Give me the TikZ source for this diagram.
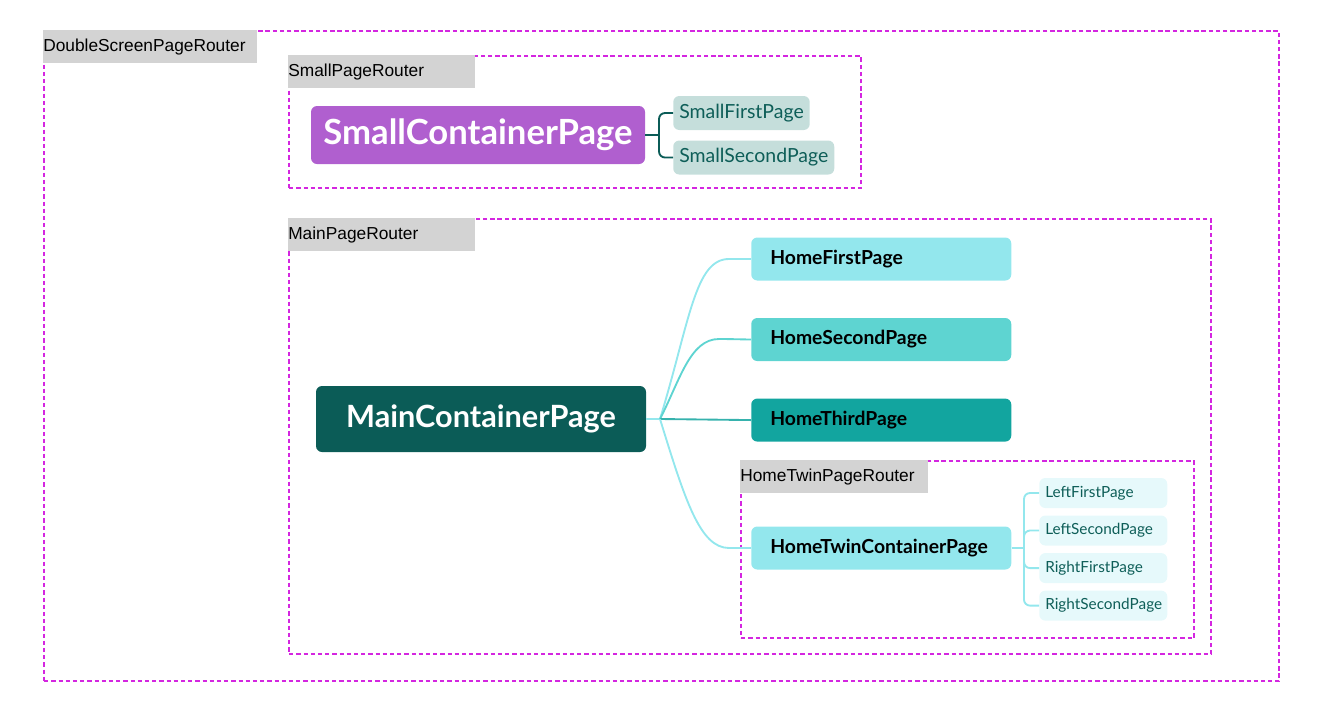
\documentclass[tikz,border=0pt]{standalone}
\usepackage{fontspec}
\setmainfont{Lato}
\newfontfamily\routerfont{Liberation Sans}
\usetikzlibrary{positioning}
\definecolor{routerMag}{RGB}{212,38,224}
\definecolor{routerGrey}{RGB}{211,211,211}
\definecolor{smallPurple}{RGB}{176,95,207}
\definecolor{smallLeaf}{RGB}{197,222,219}
\definecolor{darkTeal}{RGB}{11,92,87}
\definecolor{homeA}{RGB}{147,231,237}
\definecolor{homeB}{RGB}{94,212,209}
\definecolor{homeC}{RGB}{18,165,159}
\definecolor{twinLeaf}{RGB}{230,249,251}
\definecolor{leafText}{RGB}{14,94,88}
\newcommand{\pxl}{0.75pt}
\tikzstyle{router}=[draw=routerMag,line width=1.7pt,dash pattern=on 3.2pt off 2.2pt,
                anchor=north west,inner sep=0pt]
\tikzstyle{router label}=[fill=routerGrey,anchor=north west,inner sep=0pt,minimum height=33*\pxl,
                align=left,font=\routerfont\fontsize{13}{15}\selectfont]
\tikzstyle{page}=[rounded corners=4.5pt,inner ysep=0pt,anchor=west]
\tikzstyle{container}=[page,anchor=center,text=white,font=\bfseries\fontsize{26}{30}\selectfont]
\tikzstyle{home}=[page,minimum width=260*\pxl,minimum height=43*\pxl,text width=222*\pxl,
                inner xsep=19*\pxl,align=left,font=\bfseries\fontsize{14.5}{17}\selectfont]
\tikzstyle{small leaf}=[page,fill=smallLeaf,text=leafText,minimum height=34*\pxl,
                inner xsep=6*\pxl,font=\fontsize{14.6}{18}\selectfont]
\tikzstyle{twin leaf}=[page,fill=twinLeaf,text=leafText,minimum height=30*\pxl,text width=116*\pxl,
                inner xsep=6*\pxl,align=left,font=\fontsize{11.5}{14}\selectfont]
\tikzstyle{link}=[line width=1.4pt,rounded corners=4.5pt]
\begin{document}
\begin{tikzpicture}[x=\pxl,y=-\pxl]
  \useasboundingbox (0,0) rectangle (1338,718);
  \node[router,minimum width=1235*\pxl,minimum height=650*\pxl] (dblRouter) at (43,30) {};
  \node[router label,text width=214*\pxl] (dblLabel) at (dblRouter.north west) {DoubleScreenPageRouter};
  \node[router,minimum width=572*\pxl,minimum height=132*\pxl] (smallRouter) at (288,55) {};
  \node[router label,text width=187*\pxl] (smallLabel) at (smallRouter.north west) {SmallPageRouter};
  \node[router,minimum width=922*\pxl,minimum height=435*\pxl] (mainRouter) at (288,218) {};
  \node[router label,text width=187*\pxl] (mainLabel) at (mainRouter.north west) {MainPageRouter};
  \node[router,minimum width=453*\pxl,minimum height=177*\pxl] (twinRouter) at (740,460) {};
  \node[router label,text width=188*\pxl] (twinLabel) at (twinRouter.north west) {HomeTwinPageRouter};

  \node[container,fill=smallPurple,minimum width=334*\pxl,minimum height=58*\pxl] (smallCont) at (478,135) {SmallContainerPage};
  \node[small leaf] (smallFirst) at (673,113) {SmallFirstPage};
  \node[small leaf,below=10*\pxl of smallFirst.south west,anchor=north west] (smallSecond) {SmallSecondPage};

  \node[container,fill=darkTeal,minimum width=330*\pxl,minimum height=66*\pxl,
        font=\bfseries\fontsize{23}{27}\selectfont] (mainCont) at (481,419) {MainContainerPage};
  \node[home,fill=homeA] (homeFirst) at (751,259) {HomeFirstPage};
  \node[home,fill=homeB,below=37*\pxl of homeFirst] (homeSecond) {HomeSecondPage};
  \node[home,fill=homeC,below=37*\pxl of homeSecond] (homeThird) {HomeThirdPage};
  \node[home,fill=homeA] (twinCont) at (751,548) {HomeTwinContainerPage};

  \node[twin leaf] (leftFirst) at (1039,493) {LeftFirstPage};
  \node[twin leaf,below=7*\pxl of leftFirst] (leftSecond) {LeftSecondPage};
  \node[twin leaf,below=7*\pxl of leftSecond] (rightFirst) {RightFirstPage};
  \node[twin leaf,below=7*\pxl of rightFirst] (rightSecond) {RightSecondPage};

  \coordinate (smallFork) at (659,135);
  \draw[link,draw=darkTeal] (smallCont.east) -- (smallFork);
  \foreach \n in {smallFirst,smallSecond}
    \draw[link,draw=darkTeal] (smallFork) |- (\n.west);

  \coordinate (mainFork) at (660,419);
  \draw[link,draw=homeA] (mainCont.east) -- (mainFork);
  \draw[link,draw=homeA] (mainFork) .. controls (690,320) and (695,259) .. (735,259) -- (homeFirst.west);
  \draw[link,draw=homeB] (mainFork) .. controls (680,380) and (690,339) .. (725,339) -- (homeSecond.west);
  \draw[link,draw=homeC!85!white] (mainFork) -- (homeThird.west);
  \draw[link,draw=homeA] (mainFork) .. controls (685,500) and (700,548) .. (735,548) -- (twinCont.west);

  \coordinate (twinFork) at (1024,548);
  \draw[link,draw=homeA] (twinCont.east) -- (twinFork);
  \foreach \n in {leftFirst,leftSecond,rightFirst,rightSecond}
    \draw[link,draw=homeA] (twinFork) |- (\n.west);
\end{tikzpicture}
\end{document}
